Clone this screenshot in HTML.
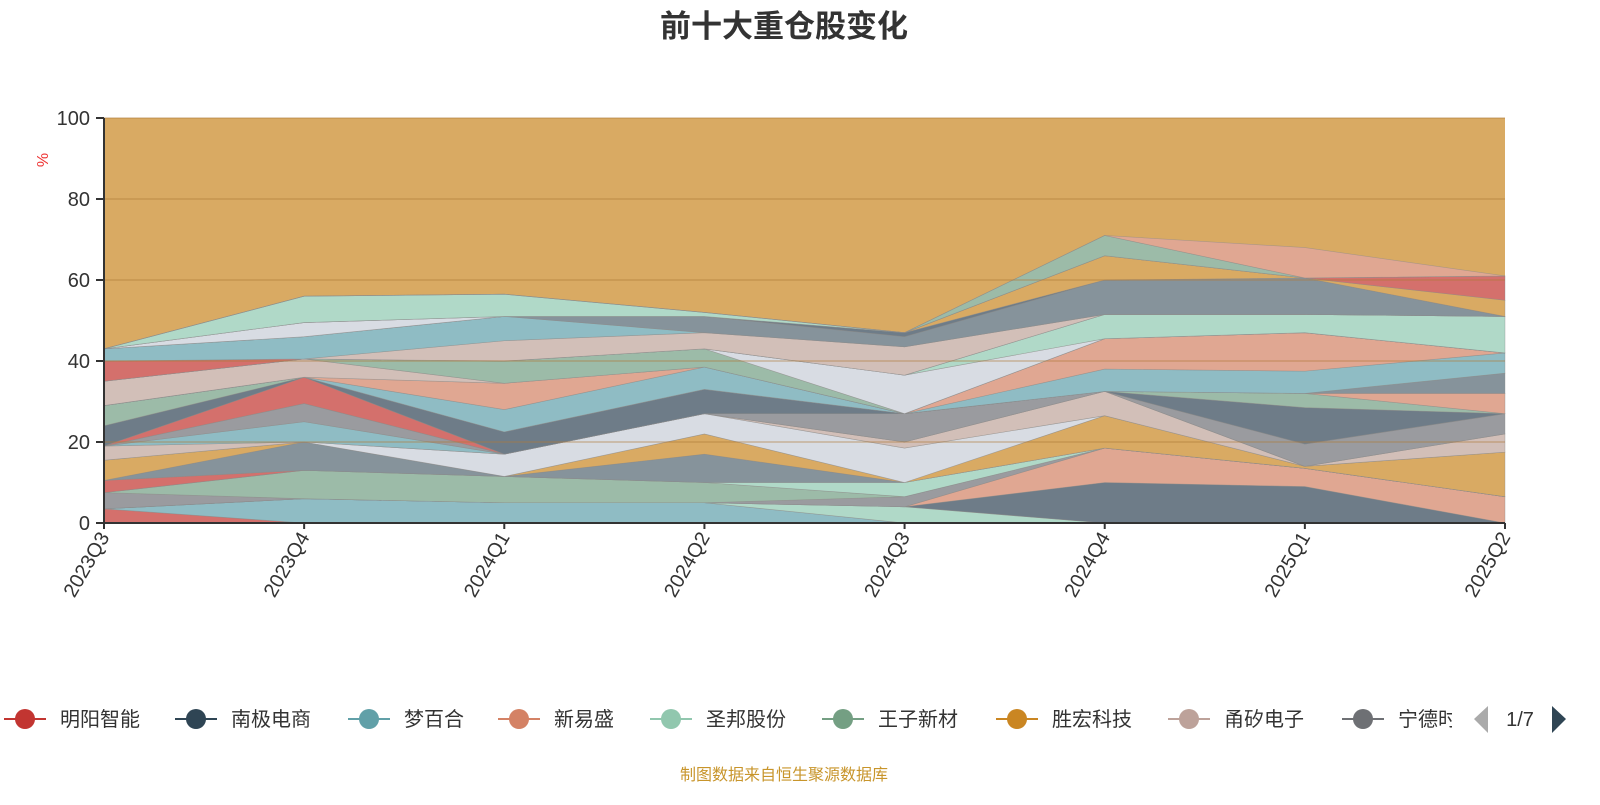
<!DOCTYPE html>
<html><head><meta charset="utf-8"><style>
body{margin:0;background:#fff;width:1600px;height:800px;overflow:hidden;font-family:"Liberation Sans","Noto Sans CJK SC",sans-serif;}
</style></head><body>
<svg id="chart" width="1600" height="800" xmlns="http://www.w3.org/2000/svg" font-family="Liberation Sans, Noto Sans CJK SC, sans-serif">
<text x="784" y="37" text-anchor="middle" font-size="31" font-weight="bold" fill="#333">前十大重仓股变化</text>
<text x="48" y="160" fill="#e33" font-size="16" transform="rotate(-90 48 160)" text-anchor="middle">%</text>
<g id="areas"></g><g id="axes"></g><g id="legend"></g>
<text x="784" y="780" text-anchor="middle" font-size="16" fill="#c8952b">制图数据来自恒生聚源数据库</text>
</svg>
<script>
const categories=["2023Q3","2023Q4","2024Q1","2024Q2","2024Q3","2024Q4","2025Q1","2025Q2"];
const yTicks=[0,20,40,60,80,100];
const seriesNames=["s1","s2","s3","s4","s5","s6","s7","s8","s9","s10","s11","s12","s13","s14","s15","s16","s17","s18","s18b","s18c","s19","s20","s21","s22","s23","s24","s25","s26","s27","s28","s29","s30","s31","s32","s33","s34","s35"];
const seriesColors=["#d4706c","#8fbcc4","#b0d9c8","#6e7c88","#e0a792","#9a9b9f","#9cbba8","#b0d9c8","#d4706c","#86939b","#d9aa63","#d8dce3","#d2bfb8","#8fbcc4","#9a9b9f","#d4706c","#6e7c88","#9cbba8","#e0a792","#86939b","#8fbcc4","#e0a792","#d2bfb8","#9cbba8","#d8dce3","#b0d9c8","#d4706c","#d2bfb8","#8fbcc4","#86939b","#6e7c88","#d8dce3","#d9aa63","#d4706c","#b0d9c8","#9cbba8","#e0a792"];
const seriesValues=[
[3.5,0,0,0,0,0,0,0],
[0,6,5,5,0,0,0,0],
[0,0,0,0,4,0,0,0],
[0,0,0,0,0,10,9,0],
[0,0,0,0,0,8.5,4.5,6.5],
[4,0,0,0,2.5,0,0,0],
[0,7,6.5,5,0,0,0,0],
[0,0,0,0,3.5,0,0,0],
[3,0,0,0,0,0,0,0],
[0,7,0,7,0,0,0,0],
[5,0,0,5,0,8,0.5,11],
[0,0,5.5,5,8.5,0,0,0],
[3.5,0,0,0,1.5,6,0,4.5],
[0,5,0,0,0,0,0,0],
[0,4.5,0,0,7,0,5.5,5],
[0,6.5,0,0,0,0,0,0],
[5,0,5.5,6,0,0,9,0],
[5,0,0,0,0,0,3.5,0],
[0,0,0,0,0,0,0,5],
[0,0,0,0,0,0,0,5],
[0,0,5.5,5.5,0,5.5,5.5,5],
[0,0,6.5,0,0,7.5,9.5,0],
[6,4.5,0,0,0,0,0,0],
[0,0,5.5,4.5,0,0,0,0],
[0,0,0,0,9.5,0,0,0],
[0,0,0,0,0,6,4.5,9],
[5,0,0,0,0,0,0,0],
[0,0,5,4,7,0,0,0],
[3,5.5,6,0,0,0,0,0],
[0,0,0,4,2.5,8.5,9,0],
[0,0,0,0,1,0,0,0],
[0,3.5,0,0,0,0,0,0],
[0,0,0,0,0,6,0,4],
[0,0,0,0,0,0,0,6],
[0,6.5,5.5,1,0,0,0,0],
[0,0,0,0,0,5,0,0],
[0,0,0,0,0,0,7.5,0]
];
const legendNames=["明阳智能","南极电商","梦百合","新易盛","圣邦股份","王子新材","胜宏科技","甬矽电子","宁德时代"];
const legendColors=["#c23531","#2f4554","#61a0a8","#d48265","#91c7ae","#749f83","#ca8622","#bda29a","#6e7074"];
const NS="http://www.w3.org/2000/svg";
const X0=104,X1=1505,Y0=523,Y1=118;
const xs=i=>X0+(X1-X0)*i/(categories.length-1);
const ys=v=>Y0-(Y0-Y1)*v/100;
function mk(t,a,p){const e=document.createElementNS(NS,t);for(const k in a)e.setAttribute(k,a[k]);p.appendChild(e);return e;}
const areas=document.getElementById('areas');
// background "other" to 100
const bg=mk('rect',{x:X0,y:ys(100),width:X1-X0,height:Y0-ys(100),fill:"#d9aa63"},areas);


let cum=categories.map(()=>0);
seriesValues.forEach((vals,si)=>{
  const lo=cum.slice();const hi=cum.map((c,i)=>c+vals[i]);
  let d="M"+hi.map((v,i)=>xs(i)+","+ys(v)).join("L");
  for(let i=lo.length-1;i>=0;i--)d+="L"+xs(i)+","+ys(lo[i]);
  const p=mk('path',{d:d+"Z",fill:seriesColors[si],stroke:"#8a8a8a","stroke-width":0.6,"stroke-opacity":0.6},areas);
  
  
  cum=hi;
});
const ax=document.getElementById('axes');
yTicks.forEach(t=>{
  if(t>0){const g=mk('line',{x1:X0,x2:X1,y1:ys(t),y2:ys(t),stroke:"#b07a3a","stroke-opacity":0.45,"stroke-width":1.5},ax);
  
  }
  mk('line',{x1:X0-8,x2:X0,y1:ys(t),y2:ys(t),stroke:"#333","stroke-width":2},ax);
  const l=mk('text',{x:X0-14,y:ys(t)+7,"text-anchor":"end","font-size":20,fill:"#333"},ax);l.textContent=t;
  
  
});
mk('line',{x1:X0,x2:X0,y1:Y1,y2:Y0,stroke:"#333","stroke-width":2},ax);
mk('line',{x1:X0,x2:X1,y1:Y0,y2:Y0,stroke:"#333","stroke-width":2},ax);
categories.forEach((c,i)=>{
  mk('line',{x1:xs(i),x2:xs(i),y1:Y0,y2:Y0+6,stroke:"#333","stroke-width":2},ax);
  const l=mk('text',{x:xs(i)+6,y:Y0+14,"text-anchor":"end","font-size":20,fill:"#333",transform:`rotate(-60 ${xs(i)+6} ${Y0+14})`},ax);
  l.textContent=c;
  
  
});
const lg=document.getElementById('legend');
const lx=[4,175,348,498,650,822,996,1168,1342];
const clip=mk('clipPath',{id:'lgclip'},lg);mk('rect',{x:0,y:690,width:1452,height:60},clip);
const lgi=mk('g',{'clip-path':'url(#lgclip)'},lg);
legendNames.forEach((n,i)=>{
  const g=mk('g',{},lgi);
  
  
  mk('line',{x1:lx[i],x2:lx[i]+42,y1:719,y2:719,stroke:legendColors[i],"stroke-width":2},g);
  mk('circle',{cx:lx[i]+21,cy:719,r:10,fill:legendColors[i]},g);
  const t=mk('text',{x:lx[i]+56,y:726,"font-size":20,fill:"#333"},g);t.textContent=n;
});
const pl=mk('path',{d:"M1488,706L1474,719L1488,733Z",fill:"#aaa"},lg);


const pt=mk('text',{x:1520,y:726,"text-anchor":"middle","font-size":20,fill:"#333"},lg);pt.textContent="1/7";


const pn=mk('path',{d:"M1552,706L1566,719L1552,733Z",fill:"#2f4554"},lg);


</script>
</body></html>
